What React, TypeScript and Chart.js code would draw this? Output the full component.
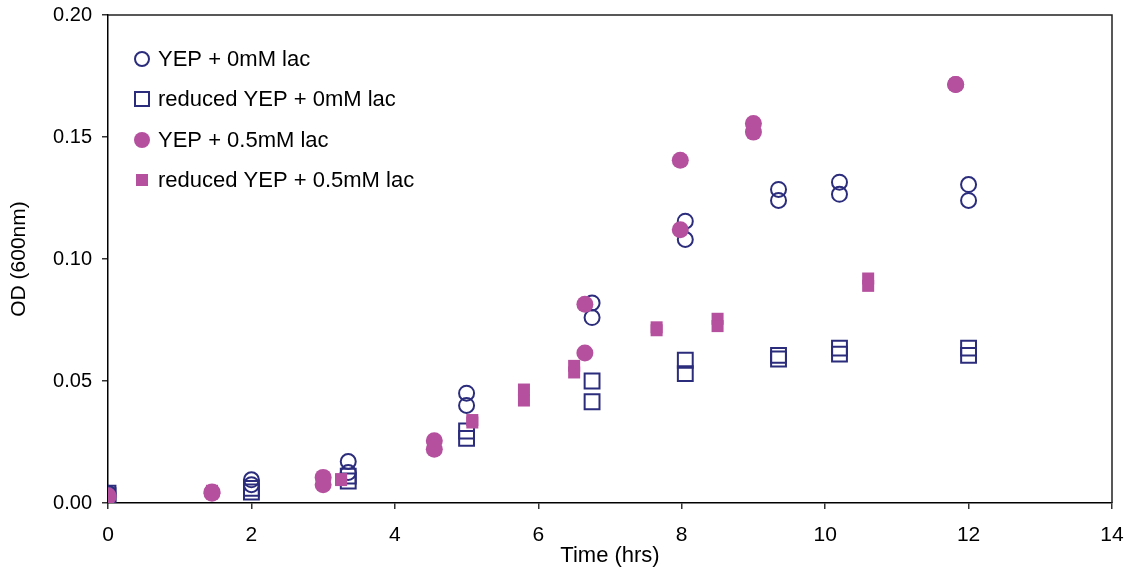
import React, { useEffect, useRef } from "react";
import { Chart, registerables } from "chart.js";

Chart.register(...registerables);

const NAVY = "#2b2c7c";
const MAGENTA = "#b5509f";

const seriesNames = [
  "YEP + 0mM lac",
  "reduced YEP + 0mM lac",
  "YEP + 0.5mM lac",
  "reduced YEP + 0.5mM lac",
];

const yep0X = [0, 0, 2, 2, 3.35, 3.35, 5, 5, 6.75, 6.75, 8.05, 8.05, 9.35, 9.35, 10.2, 10.2, 12, 12];
const yep0Y = [0.004, 0.003, 0.0095, 0.0075, 0.017, 0.0125, 0.045, 0.04, 0.082, 0.076, 0.1155, 0.108, 0.1285, 0.124, 0.1315, 0.1265, 0.1305, 0.124];

const red0X = [0, 0, 2, 2, 3.35, 3.35, 5, 5, 6.75, 6.75, 8.05, 8.05, 9.35, 9.35, 10.2, 10.2, 12, 12];
const red0Y = [0.004, 0.003, 0.006, 0.0045, 0.011, 0.009, 0.0295, 0.0265, 0.05, 0.0415, 0.0585, 0.053, 0.0605, 0.059, 0.0635, 0.061, 0.0635, 0.0605];

const yep05X = [0, 0, 1.45, 1.45, 3, 3, 4.55, 4.55, 6.65, 6.65, 7.98, 7.98, 9, 9, 11.82, 11.82];
const yep05Y = [0.003, 0.0025, 0.0045, 0.004, 0.0105, 0.0075, 0.0255, 0.022, 0.0815, 0.0615, 0.1405, 0.112, 0.1555, 0.152, 0.1715, 0.1715];

const red05X = [0, 0, 1.45, 1.45, 3.25, 3.25, 5.08, 5.08, 5.8, 5.8, 6.5, 6.5, 7.65, 7.65, 8.5, 8.5, 10.6, 10.6];
const red05Y = [0.002, 0.001, 0.005, 0.004, 0.0098, 0.0094, 0.034, 0.033, 0.0465, 0.042, 0.0562, 0.0535, 0.072, 0.0708, 0.0755, 0.0725, 0.092, 0.089];

const xTicks = [0, 2, 4, 6, 8, 10, 12, 14];
const yTicks = [0, 0.05, 0.1, 0.15, 0.2];

const toPoints = (xs: number[], ys: number[]) => xs.map((x, i) => ({ x, y: ys[i] }));

const FONT = "'Liberation Sans', Arial, sans-serif";

const framePlugin = {
  id: "frame",
  beforeDatasetsDraw(chart: any) {
    const { ctx, chartArea } = chart;
    ctx.save();
    ctx.strokeStyle = "#222";
    ctx.lineWidth = 1.5;
    ctx.beginPath();
    ctx.moveTo(chartArea.left, chartArea.top);
    ctx.lineTo(chartArea.right, chartArea.top);
    ctx.lineTo(chartArea.right, chartArea.bottom);
    ctx.stroke();
    ctx.restore();
  },
};

const legendPlugin = {
  id: "innerLegend",
  afterDatasetsDraw(chart: any) {
    const { ctx } = chart;
    const mx = 142;
    const tx = 158;
    const rows = [59, 99, 140, 180];
    ctx.save();
    chart.data.datasets.forEach((ds: any, i: number) => {
      const y = rows[i];
      ctx.beginPath();
      if (i === 0) {
        ctx.arc(mx, y, 7, 0, Math.PI * 2);
        ctx.strokeStyle = NAVY;
        ctx.lineWidth = 2;
        ctx.stroke();
      } else if (i === 1) {
        ctx.rect(mx - 7, y - 7, 14, 14);
        ctx.strokeStyle = NAVY;
        ctx.lineWidth = 2;
        ctx.stroke();
      } else if (i === 2) {
        ctx.arc(mx, y, 8, 0, Math.PI * 2);
        ctx.fillStyle = MAGENTA;
        ctx.fill();
      } else {
        ctx.rect(mx - 6, y - 6, 12, 12);
        ctx.fillStyle = MAGENTA;
        ctx.fill();
      }
      ctx.fillStyle = "#000";
      ctx.font = `22px ${FONT}`;
      ctx.textBaseline = "middle";
      ctx.textAlign = "left";
      ctx.fillText(ds.label, tx, y + 1);
    });
    ctx.restore();
  },
};

export default function App() {
  const ref = useRef<HTMLCanvasElement | null>(null);

  useEffect(() => {
    if (!ref.current) return;
    Chart.defaults.font.family = FONT;
    const chart = new Chart(ref.current, {
      type: "scatter",
      data: {
        datasets: [
          {
            label: seriesNames[0],
            data: toPoints(yep0X, yep0Y),
            pointStyle: "circle",
            pointRadius: 7.5,
            pointHoverRadius: 7.5,
            borderColor: NAVY,
            backgroundColor: "rgba(0,0,0,0)",
            pointBorderWidth: 2,
            order: 4,
          },
          {
            label: seriesNames[1],
            data: toPoints(red0X, red0Y),
            pointStyle: "rect",
            pointRadius: 10.5,
            pointHoverRadius: 10.5,
            borderColor: NAVY,
            backgroundColor: "rgba(0,0,0,0)",
            pointBorderWidth: 2,
            order: 3,
          },
          {
            label: seriesNames[2],
            data: toPoints(yep05X, yep05Y),
            pointStyle: "circle",
            pointRadius: 8.5,
            pointHoverRadius: 8.5,
            borderColor: MAGENTA,
            backgroundColor: MAGENTA,
            pointBorderWidth: 0,
            order: 2,
          },
          {
            label: seriesNames[3],
            data: toPoints(red05X, red05Y),
            pointStyle: "rect",
            pointRadius: 8.5,
            pointHoverRadius: 8.5,
            borderColor: MAGENTA,
            backgroundColor: MAGENTA,
            pointBorderWidth: 0,
            order: 1,
          },
        ],
      },
      options: {
        responsive: false,
        animation: false,
        events: [],
        layout: { padding: { top: 15, right: 22, left: 0, bottom: 0 } },
        plugins: {
          legend: { display: false },
          tooltip: { enabled: false },
        },
        scales: {
          x: {
            type: "linear",
            min: 0,
            max: 14,
            afterBuildTicks: (scale: any) => {
              scale.ticks = xTicks.map((v) => ({ value: v }));
            },
            afterFit: (scale: any) => {
              scale.height = 73;
              scale.paddingLeft = 12;
              scale.paddingRight = 12;
            },
            grid: {
              display: true,
              drawOnChartArea: false,
              drawTicks: true,
              tickLength: 6,
              color: "#333",
              lineWidth: 1.5,
            },
            border: { display: true, color: "#000", width: 1.5 },
            ticks: {
              color: "#000",
              font: { size: 21, family: FONT },
              padding: 14,
              maxRotation: 0,
              callback: (v: any) => String(v),
            },
            title: {
              display: true,
              text: "Time (hrs)",
              color: "#000",
              font: { size: 22, family: FONT },
              padding: { top: 0, bottom: 7 },
            },
          },
          y: {
            type: "linear",
            min: 0,
            max: 0.2,
            afterBuildTicks: (scale: any) => {
              scale.ticks = yTicks.map((v) => ({ value: v }));
            },
            afterFit: (scale: any) => {
              scale.width = 108;
            },
            grid: {
              display: true,
              drawOnChartArea: false,
              drawTicks: true,
              tickLength: 6,
              color: "#333",
              lineWidth: 1.5,
            },
            border: { display: true, color: "#000", width: 1.5 },
            ticks: {
              color: "#000",
              font: { size: 20, family: FONT, lineHeight: 0.4 },
              padding: 10,
              callback: (v: any) => Number(v).toFixed(2),
            },
            title: {
              display: true,
              text: "OD (600nm)",
              color: "#000",
              font: { size: 21, family: FONT },
              padding: { top: 7, bottom: 0 },
            },
          },
        },
      },
      plugins: [framePlugin, legendPlugin],
    });
    return () => chart.destroy();
  }, []);

  return (
    <div style={{ position: "absolute", left: 0, top: 0, width: 1134, height: 576, background: "#fff" }}>
      <canvas ref={ref} width={1134} height={576} style={{ width: 1134, height: 576, display: "block" }} />
    </div>
  );
}
